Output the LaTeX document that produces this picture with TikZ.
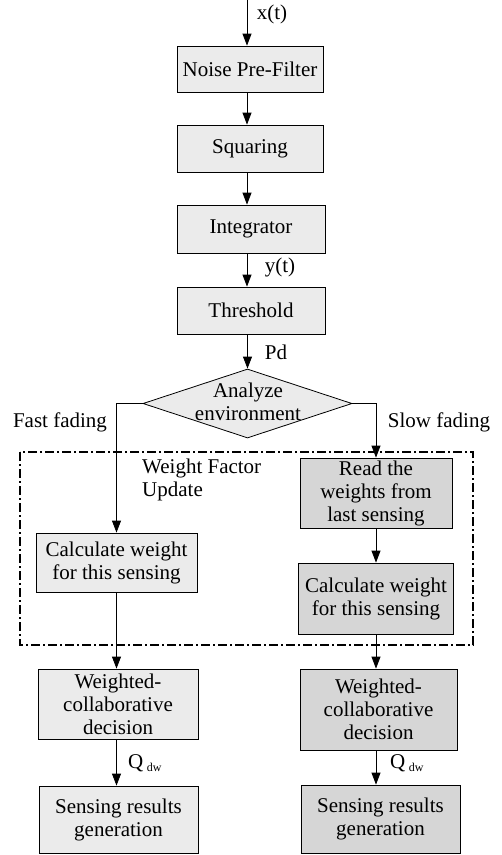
\documentclass[tikz,border=0pt]{standalone}
\usepackage{fontspec}
\setmainfont{Liberation Serif}
\usetikzlibrary{arrows.meta,shapes.geometric}
\tikzset{
  box/.style={draw, line width=0.8pt, fill=black!8, align=center, inner sep=0pt, font=\fontsize{21}{23}\selectfont},
  dbox/.style={box, fill=black!16},
  lbl/.style={font=\fontsize{21}{23}\selectfont, inner sep=0pt},
  conn/.style={line width=0.8pt, -{Triangle[length=12pt,width=9pt]}},
  frame/.style={line width=1.6pt, dash pattern=on 9pt off 3pt on 2pt off 3pt}
}
\begin{document}
\begin{tikzpicture}[x=1pt,y=-1pt]
\useasboundingbox (0,0) rectangle (502,855);
% top column
\node[box, minimum width=146pt, minimum height=46pt] (nf) at (250,69) {Noise Pre-Filter};
\node[box, minimum width=146pt, minimum height=47pt] (sq) at (250,148.5) {Squaring};
\node[box, minimum width=148pt, minimum height=48pt] (ig) at (251,229) {Integrator};
\node[box, minimum width=148pt, minimum height=47pt] (th) at (251,310.5) {Threshold};
\node[diamond, draw, line width=0.8pt, fill=black!8, minimum width=209pt, minimum height=69pt, inner sep=0pt] (dia) at (247.5,403.5) {};
\node[lbl, align=center] (diat) at (248,402) {Analyze\\environment};
\coordinate (in) at (247,0);
\draw[conn] (in) -- (in |- nf.north);
\draw[conn] (nf.south -| in) -- (sq.north -| in);
\draw[conn] (sq.south -| in) -- (ig.north -| in);
\draw[conn] (ig.south -| in) -- (th.north -| in);
\draw[conn] (th.south -| dia.north) -- (dia.north);
\node[lbl] (xt) at (272,14) {x(t)};
\node[lbl] (yt) at (280,267) {y(t)};
\node[lbl] (pd) at (276,352) {Pd};
% frame
\draw[frame] (20,452) rectangle (473,645);
\node[lbl, align=left, anchor=north west] (wfu) at (142,459) {Weight Factor\\Update};
\node[lbl] (ff) at (60,422) {Fast fading};
\node[lbl] (sf) at (439,422) {Slow fading};
% left branch
\node[box, minimum width=161pt, minimum height=59pt] (cl) at (116.5,562.5) {Calculate weight\\for this sensing};
\node[box, minimum width=160pt, minimum height=70pt] (wl) at (118,704) {Weighted-\\collaborative\\decision};
\node[box, minimum width=159pt, minimum height=67pt] (sl) at (118.5,819.5) {Sensing results\\generation};
\draw[conn] (dia.west) -| (cl.north);
\draw[conn] (cl.south) -- (wl.north -| cl.south);
\draw[conn] (wl.south -| cl.south) -- (sl.north -| cl.south);
\node[lbl, anchor=west] (ql) at (128,763) {Q\,\raisebox{-3pt}{\fontsize{12}{12}\selectfont dw}};
% right branch
\node[dbox, minimum width=152pt, minimum height=70pt] (rd) at (376,493) {Read the\\weights from\\last sensing};
\node[dbox, minimum width=155pt, minimum height=71pt] (cr) at (376,598.5) {Calculate weight\\for this sensing};
\node[dbox, minimum width=157pt, minimum height=81pt] (wr) at (378.5,709.5) {Weighted-\\collaborative\\decision};
\node[dbox, minimum width=159pt, minimum height=68pt] (sr) at (380.5,819) {Sensing results\\generation};
\draw[conn] (dia.east) -| (rd.north);
\draw[conn] (rd.south) -- (cr.north);
\draw[conn] (cr.south) -- (wr.north -| cr.south);
\draw[conn] (wr.south -| cr.south) -- (sr.north -| cr.south);
\node[lbl, anchor=west] (qr) at (390,763) {Q\,\raisebox{-3pt}{\fontsize{12}{12}\selectfont dw}};
\end{tikzpicture}
\end{document}
